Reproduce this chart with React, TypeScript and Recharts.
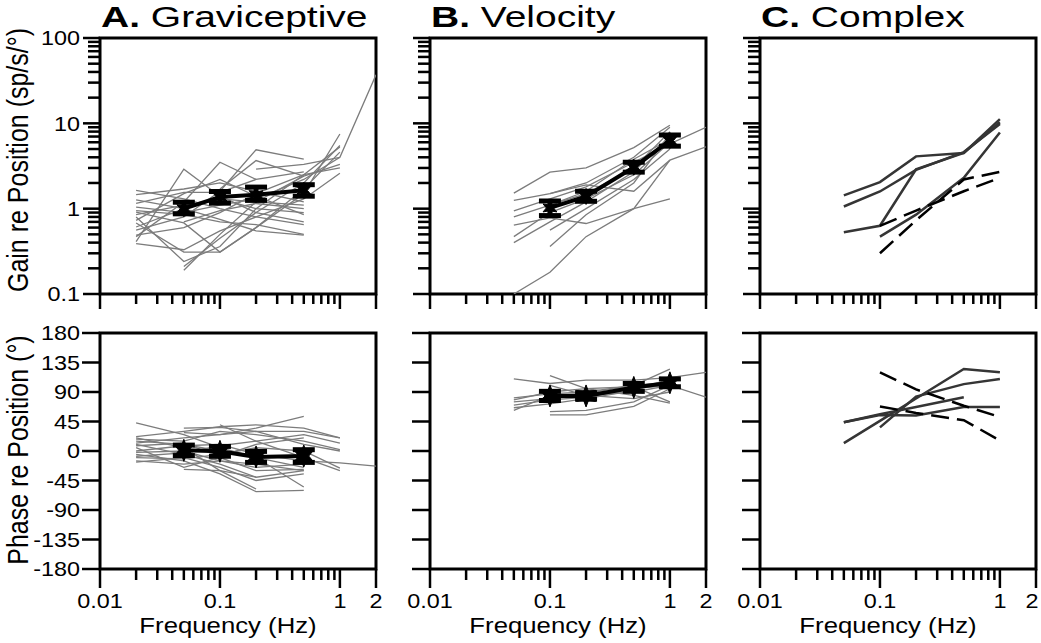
import React from 'react';
import { LineChart, Line, XAxis, YAxis, ErrorBar, ReferenceArea } from 'recharts';

const FONT = '"Liberation Sans", Arial, Helvetica, sans-serif';
const SX = 1.17; // the figure is stretched a little horizontally

// frequencies (Hz) used by each group of cells
const freqGrav = [0.02, 0.05, 0.1, 0.2, 0.5, 1, 2];
const freqVel = [0.05, 0.1, 0.2, 0.5, 1, 2];
const freqCx = [0.05, 0.1, 0.2, 0.5, 1];
const freqMeanGrav = [0.05, 0.1, 0.2, 0.5];
const freqMeanVel = [0.1, 0.2, 0.5, 1];

// axis ticks
const xTicks = [0.01, 0.02, 0.03, 0.04, 0.05, 0.06, 0.07, 0.08, 0.09, 0.1, 0.2, 0.3, 0.4, 0.5, 0.6, 0.7, 0.8, 0.9, 1, 2];
const xLabels = [0.01, 0.1, 1, 2];
const gainLabels = [0.1, 1, 10, 100];
const gainTicks = [0.1, 1, 10].flatMap((d) => [1, 2, 3, 4, 5, 6, 7, 8, 9].map((k) => +(k * d).toPrecision(3))).concat([100]);
const phaseTicks = [-180, -135, -90, -45, 0, 45, 90, 135, 180];

// A. graviceptive cells: gain (sp/s/deg) at freqGrav
const gainGrav: (number | null)[][] = [
  [0.41, 2.9, 1.4, 0.9, 0.7, null, null],
  [0.47, 1.2, 3.5, 2.2, null, null, null],
  [0.56, 0.8, 1.6, 4.9, 3.8, null, null],
  [1.64, 1.3, 1.0, 0.8, 0.65, null, null],
  [1.46, 1.7, 2.0, 1.6, 1.2, null, null],
  [1.27, 1.0, 0.75, 0.55, 0.49, null, null],
  [1.04, 0.9, 1.1, 1.3, 2.2, 4.0, 37],
  [0.91, 0.68, 0.31, 0.6, 1.5, 7.5, null],
  [0.8, 0.24, 0.36, 1.0, 2.5, 5.3, null],
  [0.68, 0.31, 0.31, 0.6, 1.7, 4.6, null],
  [0.61, 1.0, 1.3, 1.0, 0.9, null, null],
  [0.49, 0.6, 0.9, 1.5, 2.5, 3.0, null],
  [0.39, 0.33, 0.55, 0.8, 1.3, 2.6, null],
  [null, 0.19, 0.5, 1.2, 2.4, 3.3, null],
  [null, 0.21, 0.45, 0.9, 2.0, 5.5, null],
  [null, null, null, 2.9, 3.3, 4.0, null],
  [1.15, 1.55, 1.55, 2.2, 2.7, null, null],
  [0.95, 0.85, 0.7, 0.65, 0.5, null, null],
  [null, 0.7, 0.95, 1.15, 1.0, null, null],
  [0.85, 1.1, 1.3, 1.2, 1.1, null, null],
  [0.73, 1.5, 2.2, 1.4, 0.85, null, null],
  [null, null, 1.7, 3.66, 2.4, null, null],
];
// A. graviceptive cells: phase (deg) at freqGrav
const phaseGrav: (number | null)[][] = [
  [43, 25, 5, -10, -25, null, null],
  [22, 30, 37, 40, 35, 20, null],
  [18, 15, 30, 25, 15, 2, null],
  [10, -5, -20, -40, null, null, null],
  [5, -25, -10, -30, -28, null, null],
  [-2, 0, -15, -20, -30, null, null],
  [-10, -12, -5, 5, 0, -26, null],
  [-17, -10, -25, -45, -35, null, null],
  [20, 5, -30, -58, null, null, null],
  [-5, -15, -35, -62, -60, null, null],
  [15, 10, 0, -10, -55, null, null],
  [null, 35, 36, 30, 30, 20, null],
  [null, 28, 25, 35, 53, null, null],
  [null, null, 40, 15, -10, -30, null],
  [0, 8, 10, -5, -15, -18, -23],
  [null, -28, -30, -40, -30, null, null],
  [12, 20, 25, 30, 10, 0, null],
  [-15, -20, -15, -25, -20, null, null],
  [8, 12, -8, 10, 20, null, null],
  [-8, -3, 8, 15, 25, 12, null],
];
const meanGainGrav = [1.0, 1.37, 1.46, 1.64];
const errGainGrav = [[0.13, 0.19], [0.21, 0.22], [0.21, 0.33], [0.24, 0.27]];
const meanPhaseGrav = [1, -0.5, -9, -7.7];
const errPhaseGrav = [[8, 8], [7.5, 7.5], [8.4, 8.4], [9.7, 9.7]];

// B. velocity cells at freqVel
const gainVel: (number | null)[][] = [
  [1.52, 2.68, 3.0, 5.2, 9.5, null],
  [1.25, 1.5, 1.9, 1.6, 3.7, 5.3],
  [0.94, 1.3, 1.8, 3.5, 5.75, 9.0],
  [0.64, 0.78, 0.67, 1.0, 1.3, null],
  [0.47, 0.9, 1.3, 2.5, 6.0, null],
  [0.4, 0.7, 1.2, 2.7, 7.0, null],
  [0.1, 0.18, 0.47, 1.0, 3.7, null],
  [null, 0.56, 1.0, 2.2, 5.0, null],
  [null, 0.36, 0.85, 2.0, 7.5, null],
  [null, 1.5, 2.0, 4.0, 9.0, null],
  [0.8, 1.1, 1.5, 3.0, 8.0, null],
  [null, 1.1, 1.6, 3.8, 6.5, null],
];
const phaseVel: (number | null)[][] = [
  [110, 103, 108, 108, 112, 120],
  [81, 87, 90, 100, 125, null],
  [75, 80, 85, 90, 100, 82],
  [70, 78, 82, 95, 100, null],
  [66, 72, 80, 92, 110, null],
  [62, 85, 88, 100, 105, null],
  [null, 115, 95, 85, 73, null],
  [null, 55, 55, 68, 95, null],
  [null, 60, 62, 75, 100, null],
  [null, 100, 85, 80, 90, null],
  [78, 90, 95, 98, 75, null],
];
const meanGainVel = [1.02, 1.39, 3.06, 6.28];
const errGainVel = [[0.19, 0.21], [0.17, 0.21], [0.38, 0.44], [0.88, 1.02]];
const meanPhaseVel = [84, 84, 97, 104];
const errPhaseVel = [[7, 7], [5, 5], [6, 6], [6, 6]];

// C. complex cells at freqCx (solid and dashed groups)
const gainCxSolid: (number | null)[][] = [
  [1.43, 2.05, 4.1, 4.5, 11.2],
  [1.06, 1.59, 2.85, 4.6, 9.8],
  [0.53, 0.63, 2.9, 4.5, 10.3],
  [null, 0.47, 0.85, 2.3, 7.8],
];
const gainCxDashed: (number | null)[][] = [
  [null, 0.3, 0.73, 2.2, 2.7],
  [null, 0.63, 0.95, 1.6, 2.3],
];
const phaseCxSolid: (number | null)[][] = [
  [12, 46, 80, 125, 120],
  [44, 56, 67, 82, null],
  [44, 55, 54, 67, 67],
  [null, 36, 83, 102, 110],
];
const phaseCxDashed: (number | null)[][] = [
  [null, 120, 94, 69, 52],
  [null, 68, 58, 47, 16],
];

// layout
const PW = 276;
const ML = 72;
const MR = 14;
const MT = 20;
const MB = 50;
const colLeft = [100, 430, 760];
const rowGeom = [
  { top: 38, h: 256 },
  { top: 333, h: 236 },
];

type Pt = { f: number; v: number; e?: number[] };
type Series = { data: Pt[]; stroke: string; width: number; dash?: string };

const toPts = (freqs: number[], vals: (number | null)[]): Pt[] =>
  freqs.map((f, i) => ({ f, v: vals[i] as number })).filter((p) => p.v !== null && p.v !== undefined);

const gray = (freqs: number[], rows: (number | null)[][]): Series[] =>
  rows.map((r) => ({ data: toPts(freqs, r), stroke: '#7c7c7c', width: 1.3 }));

const starPts = (cx: number, cy: number, r: number) => {
  const pts: string[] = [];
  for (let i = 0; i < 12; i++) {
    const a = (Math.PI * i) / 6 - Math.PI / 2;
    const rr = i % 2 === 0 ? r : r * 0.45;
    pts.push(`${cx + rr * Math.cos(a)},${cy + rr * Math.sin(a)}`);
  }
  return pts.join(' ');
};

function Panel(props: {
  col: number;
  row: number;
  series: Series[];
  meanF?: number[];
  meanV?: number[];
  meanE?: number[][];
}) {
  const { col, row, series, meanF, meanV, meanE } = props;
  const g = rowGeom[row];
  const isGain = row === 0;
  const showY = col === 0;
  const showX = row === 1;
  const yDomain = isGain ? [0.1, 100] : [-180, 180];
  const plotBottom = MT + g.h;
  const xMaj = isGain ? 15 : 19;
  const xMin = isGain ? 10 : 11;
  const yMaj = isGain ? 17 : 18;
  const yMin = isGain ? 12 : 18;

  const mean: Pt[] | null = meanF && meanV
    ? meanF.map((f, i) => ({ f, v: meanV[i], e: meanE ? meanE[i] : [0, 0] }))
    : null;

  const XTick = (p: any) => {
    const v = p.payload.value;
    const major = xLabels.includes(v);
    const len = major ? xMaj : xMin;
    // the last label of the right-most panel sits at the page edge
    const dx = col === 2 && v === 2 ? -4 : 0;
    return (
      <g key={`xt${p.index}`}>
        <line x1={p.x} x2={p.x} y1={plotBottom} y2={plotBottom + len} stroke="#000" strokeWidth={2.5} />
        {showX && major && (
          <g transform={`translate(${p.x + dx},${plotBottom + 39}) scale(${SX},1)`}>
            <text textAnchor="middle" fontSize={20} fontFamily={FONT} fill="#000">{String(v)}</text>
          </g>
        )}
      </g>
    );
  };

  const YTick = (p: any) => {
    const v = p.payload.value;
    const major = isGain ? gainLabels.includes(v) : true;
    const len = major ? yMaj : yMin;
    return (
      <g key={`yt${p.index}`}>
        <line x1={ML - len} x2={ML} y1={p.y} y2={p.y} stroke="#000" strokeWidth={2.5} />
        {showY && major && (
          <g transform={`translate(${ML - 20},${p.y + 7.3}) scale(${SX},1)`}>
            <text textAnchor="end" fontSize={20} fontFamily={FONT} fill="#000">{String(v)}</text>
          </g>
        )}
      </g>
    );
  };

  const starR = isGain ? 8 : 11;
  const Dot = (p: any) => (
    <polygon key={`d${p.index}`} points={starPts(p.cx, p.cy, starR)} fill="#000" stroke="#000" strokeWidth={1} />
  );

  return (
    <div style={{ position: 'absolute', left: colLeft[col] - ML, top: g.top - MT }}>
      <LineChart
        width={ML + PW + MR}
        height={MT + g.h + MB}
        margin={{ top: MT, right: MR, bottom: MB - 1, left: ML - 1 }}
      >
        <XAxis
          type="number"
          dataKey="f"
          scale="log"
          domain={[0.01, 2]}
          allowDataOverflow
          ticks={xTicks}
          interval={0}
          height={1}
          tickSize={0}
          tickMargin={0}
          axisLine={false}
          tickLine={false}
          tick={XTick}
        />
        <YAxis
          type="number"
          scale={isGain ? 'log' : 'linear'}
          domain={yDomain}
          allowDataOverflow
          ticks={isGain ? gainTicks : phaseTicks}
          interval={0}
          width={1}
          tickSize={0}
          tickMargin={0}
          axisLine={false}
          tickLine={false}
          tick={YTick}
        />
        <ReferenceArea x1={0.01} x2={2} y1={yDomain[0]} y2={yDomain[1]} fill="none" fillOpacity={0} stroke="#000" strokeWidth={3} ifOverflow="visible" />
        {series.map((s, i) => (
          <Line
            key={`s${i}`}
            data={s.data}
            dataKey="v"
            stroke={s.stroke}
            strokeWidth={s.width}
            strokeDasharray={s.dash}
            dot={false}
            activeDot={false}
            isAnimationActive={false}
          />
        ))}
        {mean && (
          <Line
            key="mean"
            data={mean}
            dataKey="v"
            stroke="#000"
            strokeWidth={4}
            dot={Dot}
            activeDot={false}
            isAnimationActive={false}
          >
            <ErrorBar dataKey="e" direction="y" width={11} strokeWidth={5} stroke="#000" isAnimationActive={false} />
          </Line>
        )}
      </LineChart>
    </div>
  );
}

const cxSeries = (solid: (number | null)[][], dashed: (number | null)[][]): Series[] => [
  ...solid.map((r) => ({ data: toPts(freqCx, r), stroke: '#353535', width: 2.5 })),
  ...dashed.map((r) => ({ data: toPts(freqCx, r), stroke: '#000', width: 2.5, dash: '18 8' })),
];

export default function App() {
  const titleStyle = { fontSize: 30, fontFamily: FONT, fill: '#000' } as const;
  const labelStyle = { fontSize: 22, fontFamily: FONT, fill: '#000' } as const;
  return (
    <div style={{ position: 'absolute', left: 0, top: 0, width: 1041, height: 643, background: '#fff', overflow: 'hidden' }}>
      <Panel col={0} row={0} series={gray(freqGrav, gainGrav)} meanF={freqMeanGrav} meanV={meanGainGrav} meanE={errGainGrav} />
      <Panel col={1} row={0} series={gray(freqVel, gainVel)} meanF={freqMeanVel} meanV={meanGainVel} meanE={errGainVel} />
      <Panel col={2} row={0} series={cxSeries(gainCxSolid, gainCxDashed)} />
      <Panel col={0} row={1} series={gray(freqGrav, phaseGrav)} meanF={freqMeanGrav} meanV={meanPhaseGrav} meanE={errPhaseGrav} />
      <Panel col={1} row={1} series={gray(freqVel, phaseVel)} meanF={freqMeanVel} meanV={meanPhaseVel} meanE={errPhaseVel} />
      <Panel col={2} row={1} series={cxSeries(phaseCxSolid, phaseCxDashed)} />

      <svg width={1041} height={643} style={{ position: 'absolute', left: 0, top: 0, pointerEvents: 'none' }}>
        {[
          ['A.', ' Graviceptive'],
          ['B.', ' Velocity'],
          ['C.', ' Complex'],
        ].map(([a, b], i) => (
          <g key={a} transform={`translate(${colLeft[i] + 1},27) scale(1.3,1)`}>
            <text {...titleStyle}>
              <tspan fontWeight="bold">{a}</tspan>
              <tspan>{b}</tspan>
            </text>
          </g>
        ))}
        {colLeft.map((x) => (
          <g key={x} transform={`translate(${x + 128},633) scale(${SX},1)`}>
            <text textAnchor="middle" {...labelStyle}>Frequency (Hz)</text>
          </g>
        ))}
        <g transform={`translate(28,160) scale(${SX},1) rotate(-90)`}>
          <text textAnchor="middle" fontSize={25} fontFamily={FONT} fill="#000">Gain re Position (sp/s/°)</text>
        </g>
        <g transform={`translate(28,450) scale(${SX},1) rotate(-90)`}>
          <text textAnchor="middle" fontSize={25} fontFamily={FONT} fill="#000">Phase re Position (°)</text>
        </g>
      </svg>
    </div>
  );
}
